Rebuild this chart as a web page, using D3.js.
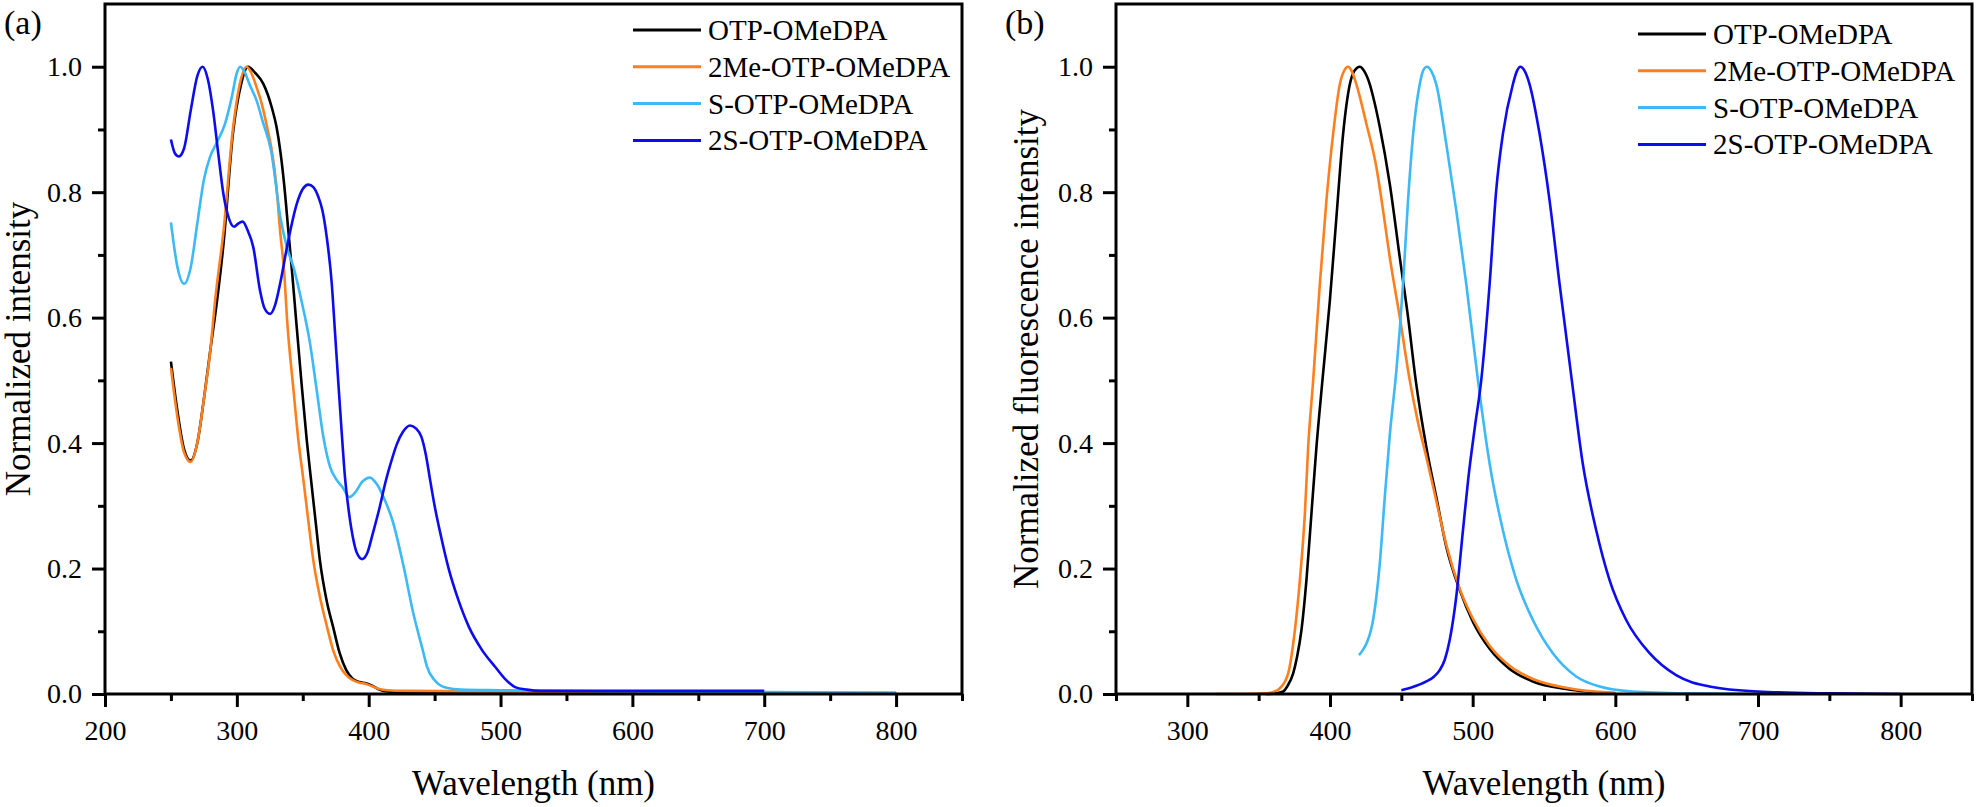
<!DOCTYPE html>
<html>
<head>
<meta charset="utf-8">
<script src="https://cdnjs.cloudflare.com/ajax/libs/d3/7.8.5/d3.min.js"></script>
<style>
  body { margin: 0; background: #fff; }
  svg text { font-family: "Liberation Serif", "Times New Roman", "DejaVu Serif", serif; fill: #000; }
</style>
</head>
<body>
<div id="chart"></div>
<script>
// Series names and colours (same in both panels)
var seriesNames = ["OTP-OMeDPA", "2Me-OTP-OMeDPA", "S-OTP-OMeDPA", "2S-OTP-OMeDPA"];
var seriesColors = ["#000000", "#ff7f1e", "#3cb9f6", "#0c0cee"];

// Tick values
var absMajorTicks = [200, 300, 400, 500, 600, 700, 800];
var absMinorTicks = [250, 350, 450, 550, 650, 750, 850];
var flMajorTicks = [300, 400, 500, 600, 700, 800];
var flMinorTicks = [250, 350, 450, 550, 650, 750, 850];
var yMajorTicks = [0, 0.2, 0.4, 0.6, 0.8, 1.0];
var yMinorTicks = [0.1, 0.3, 0.5, 0.7, 0.9];

// (a) absorption
var absOtpWl  = [250, 255, 260, 265, 270, 275, 280, 285, 290, 297, 303, 308.5, 314, 320, 326.5, 330, 333, 336, 339, 342, 345, 349, 353, 356.3, 360, 363, 368, 373, 378, 383, 388, 393, 398, 403, 408, 414, 430, 500, 600, 700, 800];
var absOtpVal = [0.53, 0.45, 0.39, 0.372, 0.40, 0.47, 0.55, 0.627, 0.72, 0.893, 0.97, 1.0, 0.99, 0.973, 0.935, 0.905, 0.865, 0.81, 0.74, 0.67, 0.595, 0.497, 0.405, 0.341, 0.27, 0.213, 0.15, 0.107, 0.065, 0.038, 0.024, 0.019, 0.017, 0.013, 0.007, 0.004, 0.002, 0.001, 0.001, 0.001, 0.001];

var abs2MeWl  = [250, 255, 260, 265, 270, 275, 280, 283.5, 290, 297, 302, 307.5, 311, 315, 319, 323, 326.5, 330, 333, 336, 338, 343, 346.7, 350.5, 354, 358, 363, 368.4, 373, 378, 383, 388, 393, 398, 403, 408, 414, 430, 500, 600, 700, 800];
var abs2MeVal = [0.52, 0.44, 0.385, 0.37, 0.40, 0.47, 0.55, 0.627, 0.74, 0.9, 0.97, 1.0, 0.99, 0.967, 0.94, 0.903, 0.866, 0.81, 0.734, 0.67, 0.60, 0.484, 0.404, 0.341, 0.28, 0.213, 0.155, 0.107, 0.07, 0.045, 0.03, 0.022, 0.018, 0.016, 0.012, 0.008, 0.006, 0.005, 0.004, 0.003, 0.002, 0.002];

var absSWl  = [250, 255, 260, 265, 270, 275, 279.6, 285, 291, 296, 300, 302.5, 305, 310, 315, 320, 326, 333, 338, 343, 349, 355.5, 360.6, 365.6, 370.7, 375.8, 380, 385.4, 390, 395, 401, 406, 412, 418, 426, 433.8, 441.6, 444, 450, 459, 470, 500, 600, 700, 800];
var absSVal = [0.752, 0.68, 0.654, 0.68, 0.75, 0.82, 0.856, 0.88, 0.909, 0.95, 0.99, 1.0, 0.995, 0.97, 0.946, 0.91, 0.866, 0.76, 0.712, 0.68, 0.627, 0.559, 0.484, 0.41, 0.362, 0.341, 0.33, 0.314, 0.322, 0.338, 0.345, 0.335, 0.31, 0.277, 0.208, 0.129, 0.065, 0.045, 0.022, 0.01, 0.007, 0.006, 0.004, 0.003, 0.002];

var abs2SWl  = [250, 253, 256, 260, 265, 270, 274, 278, 282, 286, 289.6, 293, 297.9, 301, 304.4, 308, 312.5, 317.6, 321, 325.2, 329, 332.8, 339, 345.4, 350, 354.3, 358, 361.9, 365, 368.2, 372, 374.5, 377, 379.6, 382, 385, 388, 391, 395, 399, 403, 408, 413, 417, 421.3, 426, 431.4, 436, 440, 443.5, 446.6, 450, 455, 461, 468, 476, 486, 496, 503, 511, 520, 530, 600, 700];
var abs2SVal = [0.884, 0.862, 0.857, 0.87, 0.93, 0.985, 1.0, 0.98, 0.93, 0.86, 0.8, 0.765, 0.745, 0.75, 0.753, 0.74, 0.712, 0.643, 0.615, 0.606, 0.62, 0.654, 0.723, 0.781, 0.805, 0.812, 0.808, 0.792, 0.77, 0.728, 0.654, 0.575, 0.495, 0.415, 0.346, 0.29, 0.25, 0.225, 0.215, 0.225, 0.255, 0.295, 0.34, 0.37, 0.398, 0.418, 0.428, 0.423, 0.41, 0.38, 0.341, 0.30, 0.25, 0.197, 0.15, 0.107, 0.07, 0.043, 0.025, 0.011, 0.007, 0.005, 0.005, 0.005];

// (b) fluorescence
var flOtpWl  = [355, 362, 367.2, 370, 374.2, 377, 380, 383.5, 387, 390.5, 394.7, 399.9, 404.5, 409.2, 413.9, 417, 420.9, 424, 427.9, 431, 434.9, 441.9, 448.9, 454.7, 460.1, 467.5, 474.5, 481.5, 490.9, 500.2, 511.9, 525.9, 542.2, 565.6, 580, 600];
var flOtpVal = [0, 0.001, 0.004, 0.012, 0.033, 0.06, 0.102, 0.182, 0.288, 0.394, 0.5, 0.627, 0.76, 0.893, 0.972, 0.993, 1.0, 0.993, 0.972, 0.945, 0.904, 0.813, 0.696, 0.601, 0.5, 0.394, 0.314, 0.235, 0.166, 0.115, 0.072, 0.04, 0.02, 0.008, 0.004, 0.001];

var fl2MeWl  = [320, 340, 355, 360, 364.8, 370.7, 375.4, 378.9, 382.4, 384.7, 388.2, 392.9, 397.5, 402.2, 406.9, 410, 412.7, 415, 418.5, 425.5, 432.5, 437.2, 441.9, 448.9, 455.9, 461.5, 467.5, 474.5, 481.5, 490.9, 500.2, 511.9, 525.9, 542.2, 565.6, 580, 600];
var fl2MeVal = [0, 0, 0.001, 0.003, 0.009, 0.033, 0.102, 0.182, 0.288, 0.394, 0.5, 0.654, 0.787, 0.893, 0.972, 0.994, 1.0, 0.994, 0.972, 0.909, 0.84, 0.771, 0.696, 0.601, 0.5, 0.435, 0.378, 0.308, 0.238, 0.168, 0.12, 0.077, 0.045, 0.024, 0.01, 0.005, 0.002];

var flSWl  = [420.3, 423, 426, 428.5, 430.2, 432.5, 434.9, 438.4, 442, 446.5, 451.2, 454.7, 458.3, 462.9, 465.5, 468, 471, 474.5, 481.5, 488.5, 495.5, 503.7, 511.9, 521.2, 530.6, 542.2, 556.2, 572.6, 589, 612, 650, 700];
var flSVal = [0.062, 0.07, 0.083, 0.1, 0.118, 0.155, 0.208, 0.314, 0.415, 0.515, 0.654, 0.787, 0.893, 0.972, 0.995, 1.0, 0.993, 0.972, 0.877, 0.771, 0.654, 0.5, 0.367, 0.261, 0.182, 0.118, 0.065, 0.028, 0.012, 0.004, 0.001, 0];

var fl2SWl  = [450, 458, 467.5, 473, 476.9, 480.5, 483.9, 488.5, 493.2, 497, 501.5, 506, 511.9, 516.5, 521.2, 528.2, 531, 533.4, 536.5, 539.9, 546.9, 553.9, 560.9, 569.5, 577.2, 586.6, 595.9, 607.6, 624, 642.6, 666, 700, 750, 800];
var fl2SVal = [0.006, 0.011, 0.02, 0.028, 0.038, 0.055, 0.086, 0.155, 0.261, 0.345, 0.425, 0.5, 0.654, 0.803, 0.893, 0.972, 0.993, 1.0, 0.993, 0.972, 0.893, 0.787, 0.654, 0.5, 0.367, 0.261, 0.182, 0.118, 0.065, 0.03, 0.012, 0.004, 0.001, 0];

var serifFont = "'Liberation Serif', 'Times New Roman', 'DejaVu Serif', serif";

// SVG area
var svgWidth = 1977;
var svgHeight = 807;

var svg = d3.select("#chart")
  .append("svg")
  .attr("width", svgWidth)
  .attr("height", svgHeight)
  .style("font-family", serifFont);

// helper: zip wavelength/value arrays into points
function pairs(wl, val) {
  return wl.map((w, i) => ({ x: w, y: val[i] }));
}

function drawPanel(cfg) {
  var x = d3.scaleLinear().domain(cfg.xDomain).range(cfg.xRange);
  var y = d3.scaleLinear().domain([0, 1.1]).range([694, 4]);
  var g = svg.append("g");

  // curves
  var line = d3.line()
    .x(d => x(d.x))
    .y(d => y(d.y))
    .curve(d3.curveMonotoneX);

  cfg.series.forEach(function (s, i) {
    g.append("path")
      .datum(pairs(s[0], s[1]))
      .attr("fill", "none")
      .attr("stroke", seriesColors[i])
      .attr("stroke-width", 2.6)
      .attr("stroke-linejoin", "round")
      .attr("d", line);
  });

  // minor ticks
  g.append("g")
    .attr("transform", `translate(0, ${y(0)})`)
    .call(d3.axisBottom(x).tickValues(cfg.minor).tickSize(7).tickSizeOuter(0).tickFormat(""));
  g.append("g")
    .attr("transform", `translate(${x.range()[0]}, 0)`)
    .call(d3.axisLeft(y).tickValues(yMinorTicks).tickSize(7).tickSizeOuter(0).tickFormat(""));

  // major ticks with labels
  g.append("g")
    .attr("transform", `translate(0, ${y(0)})`)
    .call(d3.axisBottom(x).tickValues(cfg.major).tickSize(13).tickSizeOuter(0).tickPadding(13).tickFormat(d3.format("d")));
  g.append("g")
    .attr("transform", `translate(${x.range()[0]}, 0)`)
    .call(d3.axisLeft(y).tickValues(yMajorTicks).tickSize(13).tickSizeOuter(0).tickPadding(10).tickFormat(d3.format(".1f")));

  g.selectAll("g").attr("font-family", null).attr("font-size", null);
  g.selectAll(".tick line").attr("stroke", "#000").attr("stroke-width", 3);
  g.selectAll(".domain").remove();
  g.selectAll(".tick text")
    .style("font-family", serifFont)
    .attr("font-size", 28)
    .attr("fill", "#000");

  // frame
  g.append("rect")
    .attr("x", x.range()[0])
    .attr("y", y(1.1))
    .attr("width", x.range()[1] - x.range()[0])
    .attr("height", y(0) - y(1.1))
    .attr("fill", "none")
    .attr("stroke", "#000")
    .attr("stroke-width", 3);

  // axis titles
  g.append("text")
    .attr("x", (x.range()[0] + x.range()[1]) / 2)
    .attr("y", 795)
    .attr("text-anchor", "middle")
    .attr("font-size", 35)
    .text("Wavelength (nm)");

  g.append("text")
    .attr("transform", `translate(${cfg.yTitleX}, ${(y(0) + y(1.1)) / 2}) rotate(-90)`)
    .attr("text-anchor", "middle")
    .attr("font-size", 35)
    .text(cfg.yTitle);

  // panel label
  g.append("text")
    .attr("x", cfg.labelX)
    .attr("y", 34)
    .attr("font-size", 34)
    .text(cfg.label);

  // legend
  var legend = g.append("g");
  seriesNames.forEach(function (name, i) {
    var ly = cfg.legendY + i * 36.8;
    legend.append("line")
      .attr("x1", cfg.legendX)
      .attr("x2", cfg.legendX + 68)
      .attr("y1", ly)
      .attr("y2", ly)
      .attr("stroke", seriesColors[i])
      .attr("stroke-width", 3);
    legend.append("text")
      .attr("x", cfg.legendX + 75)
      .attr("y", ly + 10)
      .attr("font-size", 29)
      .text(name);
  });
}

// Panel (a): absorption
drawPanel({
  xDomain: [200, 850],
  xRange: [105, 962],
  major: absMajorTicks,
  minor: absMinorTicks,
  series: [[absOtpWl, absOtpVal], [abs2MeWl, abs2MeVal], [absSWl, absSVal], [abs2SWl, abs2SVal]],
  yTitle: "Normalized intensity",
  yTitleX: 30,
  label: "(a)",
  labelX: 4,
  legendX: 633,
  legendY: 30
});

// Panel (b): fluorescence
drawPanel({
  xDomain: [250, 850],
  xRange: [1116, 1972],
  major: flMajorTicks,
  minor: flMinorTicks,
  series: [[flOtpWl, flOtpVal], [fl2MeWl, fl2MeVal], [flSWl, flSVal], [fl2SWl, fl2SVal]],
  yTitle: "Normalized fluorescence intensity",
  yTitleX: 1038,
  label: "(b)",
  labelX: 1005,
  legendX: 1638,
  legendY: 34
});
</script>
</body>
</html>
